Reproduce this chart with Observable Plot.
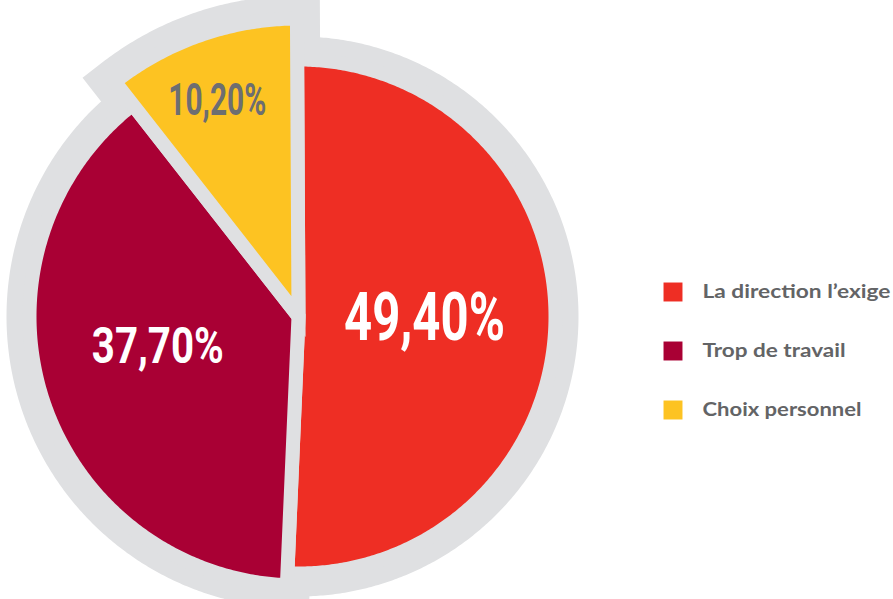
<!DOCTYPE html>
<html><head><meta charset="utf-8">
<script src="https://cdn.jsdelivr.net/npm/d3@7"></script>
<script src="https://cdn.jsdelivr.net/npm/@observablehq/plot@0.6"></script>
<style>html,body{margin:0;padding:0;background:#fff;overflow:hidden}</style>
</head><body><div id="chart"></div>
<script>
// ---- data ----
const categories = ["La direction l’exige", "Trop de travail", "Choix personnel"];
const values = [49.4, 37.7, 10.2];
const valueLabels = ["49,40%", "37,70%", "10,20%"];
const colors = ["#EE2E24", "#A90034", "#FDC322"];

// ---- layout / style ----
const W = 893, H = 599;
const cx = 298, cy = 316;
const radii = [257, 269, 298];
const labelR = [126, 144, 230];
const labelAngOff = [0, 5.5, -1.5];
const labelSize = [66, 50, 44];
const labelLen = [161, 132, 98];
const labelFill = ["#ffffff", "#ffffff", "#6D6E71"];
const gray = "#DFE0E2";
const start = -0.3 * Math.PI / 180;
const legendX = 672.5, legendTextX = 702, legendY0 = 291.5, legendStep = 59;
const legendLen = [188, 143, 159];

const arcs = d3.pie().sort(null).startAngle(start).endAngle(2 * Math.PI + start)(values);

const pts = [];
arcs.forEach((a, i) => {
  const R = radii[i], cat = categories[i];
  pts.push({cat, x: cx, y: cy});
  const n = Math.ceil((a.endAngle - a.startAngle) / (Math.PI / 360));
  for (let k = 0; k <= n; k++) {
    const t = a.startAngle + (a.endAngle - a.startAngle) * k / n;
    pts.push({cat, x: cx + R * Math.sin(t), y: cy - R * Math.cos(t)});
  }
});

const labels = arcs.map((a, i) => {
  const t = (a.startAngle + a.endAngle) / 2 + labelAngOff[i] * Math.PI / 180;
  return {text: valueLabels[i], x: cx + labelR[i] * Math.sin(t), y: cy - labelR[i] * Math.cos(t), i};
});

const labelMarks = labels.map(l => Plot.text([l], {
  x: "x", y: "y", text: "text", fill: labelFill[l.i], fontSize: labelSize[l.i],
  fontWeight: 700, fontFamily: "Roboto, 'DejaVu Sans Condensed', sans-serif",
  textAnchor: "middle", lineAnchor: "middle", className: "vlabel vlabel" + l.i
}));

const chart = Plot.plot({
  width: W, height: H, margin: 0,
  x: {domain: [0, W], range: [0, W], axis: null},
  y: {domain: [0, H], range: [0, H], axis: null},
  color: {domain: categories, range: colors},
  marks: [
    Plot.line(pts, {x: "x", y: "y", z: "cat", curve: "linear-closed", fill: gray, stroke: gray,
      strokeWidth: 46, strokeLinejoin: "miter", strokeMiterlimit: 4}),
    Plot.line(pts, {x: "x", y: "y", z: "cat", curve: "linear-closed", fill: "cat", stroke: gray,
      strokeWidth: 14, strokeLinejoin: "miter", strokeMiterlimit: 4}),
    ...labelMarks,
    Plot.dot(categories, {x: () => legendX, y: (d, i) => legendY0 + i * legendStep, symbol: "square",
      r: 10.7, fill: d => d}),
    Plot.text(categories, {x: () => legendTextX, y: (d, i) => legendY0 + i * legendStep, text: d => d,
      textAnchor: "start", fontWeight: 700, fontSize: 19, fill: "#636466",
      fontFamily: "Lato, 'Open Sans', sans-serif", className: "legtext"})
  ]
});
document.getElementById("chart").appendChild(chart);

const svg = d3.select(chart);
labels.forEach(l => {
  svg.selectAll(".vlabel" + l.i + " text").attr("textLength", labelLen[l.i]).attr("lengthAdjust", "spacingAndGlyphs");
});
svg.selectAll(".legtext text").each(function(d, j) {
  d3.select(this).attr("textLength", legendLen[j]).attr("lengthAdjust", "spacingAndGlyphs");
});
</script></body></html>
